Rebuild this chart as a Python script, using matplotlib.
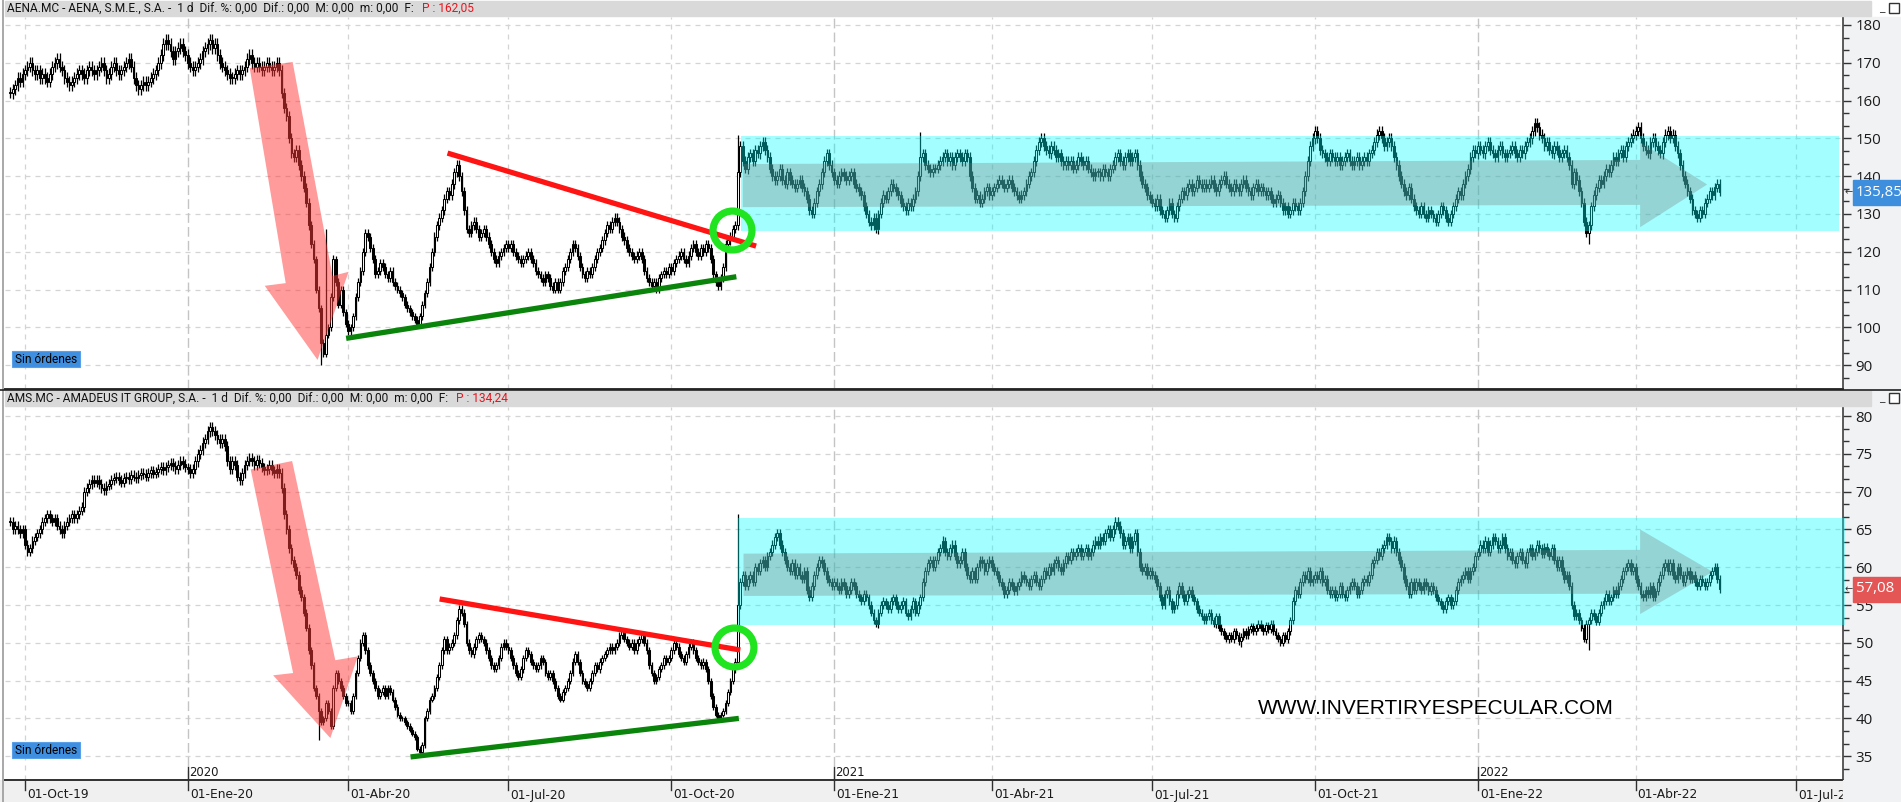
import numpy as np
import pandas as pd
import matplotlib
matplotlib.use('Agg')
import matplotlib.pyplot as plt
from matplotlib.patches import Polygon, Rectangle
from matplotlib.ticker import MultipleLocator, FixedLocator

plt.rcParams['font.family'] = ['Open Sans', 'DejaVu Sans']

# ---------------- DATA (daily closes, business days from 2019-09-23) ----------------
aena_2019 = [162, 163, 164, 166, 165, 167,
             168, 169, 170, 168, 167, 168, 166, 167, 166, 165, 167, 169, 170, 171, 169, 168, 166, 165, 164, 165, 166, 167, 168,
             167, 166, 168, 169, 168, 167, 168, 169, 170, 168, 166, 167, 169, 170, 168, 167, 168, 169, 170, 171, 169,
             166, 164, 163, 164, 165, 164, 165, 166, 167, 168, 170, 172, 175, 176, 175, 173, 171, 173, 174, 175, 173, 172]
aena_2020 = [170, 169, 168, 169, 170, 171, 173, 174, 175, 176, 174, 175, 172, 170, 169, 168, 167, 166, 166, 167, 168, 167, 168,
             169, 171, 172, 170, 169, 170, 169, 168, 169, 170, 169, 168, 169, 170, 168, 162, 158, 156, 150, 146,
             145, 147, 143, 140, 137, 133, 127, 122, 118, 110, 105, 96, 93, 98, 100, 108, 118, 112, 106, 110, 104, 101,
             99, 100, 103, 108, 112, 115, 120, 125, 124, 121, 118, 114, 115, 117, 116, 114, 113, 115, 112, 111, 110, 109,
             108, 106, 105, 104, 103, 102, 101, 103, 106, 109, 112, 116, 120, 124, 127, 129, 131, 134, 136, 135, 138,
             141, 143, 140, 136, 131, 126, 125, 127, 128, 126, 124, 125, 126, 124, 122, 120, 118, 117, 119, 120, 121, 122,
             121, 122, 120, 119, 118, 117, 118, 119, 120, 118, 117, 115, 114, 113, 112, 114, 113, 111, 110, 112, 110, 112, 115,
             116, 118, 120, 122, 121, 119, 116, 114, 113, 115, 114, 116, 118, 120, 121, 123, 125, 127, 126, 128, 129,
             128, 126, 124, 123, 121, 120, 119, 118, 119, 120, 118, 115, 113, 112, 111, 112, 110, 113, 114, 115, 114, 116,
             115, 117, 118, 119, 120, 118, 117, 119, 121, 122, 120, 119, 121, 120, 122, 121, 118, 114, 112, 111, 113, 116,
             122, 123, 124, 126, 127, 141, 148, 144, 142, 145, 146, 144, 147, 146, 148, 149, 147, 145, 142, 140, 139,
             140, 142, 139, 138, 141, 139, 138, 137, 138, 139, 137, 136, 134, 131, 130, 133, 136, 138, 141, 144, 146, 143, 141]
aena_2021 = [139, 138, 140, 141, 140, 139, 140, 141, 138, 137, 136, 135, 132, 130, 128, 127, 129, 126, 130, 133, 135,
             134, 136, 138, 137, 136, 135, 133, 132, 131, 133, 132, 134, 136, 140, 145, 146, 143, 142, 141, 142,
             142, 143, 144, 145, 146, 144, 145, 143, 145, 146, 145, 144, 146, 145, 140, 137, 134, 135, 133, 134, 136, 137, 135,
             136, 137, 138, 139, 138, 137, 138, 139, 137, 136, 135, 134, 135, 136, 138, 140, 141, 144, 147, 149, 150, 148,
             147, 146, 148, 147, 145, 146, 144, 143, 144, 143, 144, 142, 143, 145, 144, 143, 144, 142, 141, 140, 141,
             141, 140, 142, 141, 140, 142, 143, 145, 146, 144, 143, 145, 146, 144, 145, 146, 143, 140, 138, 137, 135, 134,
             133, 132, 134, 131, 130, 129, 131, 133, 130, 129, 132, 134, 136, 135, 137, 138, 136, 137, 139, 138, 137, 138,
             137, 138, 139, 137, 136, 138, 139, 140, 138, 137, 136, 138, 137, 136, 138, 139, 137, 136, 135, 137, 138, 136,
             137, 136, 135, 136, 134, 133, 134, 135, 133, 131, 132, 130, 131, 133, 132, 131, 133, 136, 140, 144, 148, 150,
             152, 150, 147, 146, 145, 144, 146, 145, 144, 145, 143, 144, 145, 146, 144, 143, 144, 145, 143, 144, 145,
             144, 146, 147, 149, 151, 152, 150, 148, 149, 150, 148, 145, 143, 140, 138, 136, 135, 137, 134, 132, 131, 130,
             132, 130, 129, 131, 130, 129, 128, 130, 132, 131, 129, 128, 130, 132, 134, 136, 135, 138, 140, 142, 145, 147, 146]
aena_2022 = [148, 147, 146, 148, 149, 147, 146, 145, 147, 148, 146, 145, 146, 147, 148, 146, 145, 147, 146, 148, 149,
             150, 152, 154, 153, 151, 150, 148, 149, 147, 146, 148, 147, 145, 146, 147, 145, 143, 138, 141, 139,
             136, 133, 128, 125, 127, 132, 135, 137, 139, 138, 140, 142, 141, 143, 145, 144, 146, 147, 145, 148, 149, 150, 151,
             152, 153, 150, 148, 147, 146, 149, 150, 148, 147, 146, 149, 151, 152, 150, 151, 148, 146, 143, 140, 138,
             136, 134, 131, 130, 129, 131, 130, 133, 134, 136, 135, 137, 138, 135.85]

ams_2019 = [66, 65, 65.5, 65, 64.5, 65,
            63, 62, 62.5, 63.5, 64, 64.5, 65, 66, 66.5, 67, 66.5, 66, 66.5, 65.5, 65, 64.5, 65.5, 66, 66.5, 67, 66.5, 67, 67.5,
            68, 70, 70.5, 71, 71.5, 71.2, 71.6, 71, 70.5, 70.2, 70.8, 71, 71.5, 71.8, 72, 71.5, 71.2, 71.8, 72, 71.7, 72.2,
            72, 71.8, 72.2, 72.5, 72.3, 72, 72.5, 72.8, 72.4, 72.6, 73, 73.3, 72.8, 73.2, 73.5, 73.8, 73.4, 73, 73.5, 74, 73.6, 73.2]
ams_2020 = [73, 72.5, 73, 74, 75, 75.5, 76.5, 77, 78, 78.5, 78, 77.5, 77, 76.5, 77, 76, 74, 73, 74, 73.5, 72, 71.5, 72.5,
            73.5, 74, 74.5, 74, 73.5, 74.2, 73.8, 73.2, 72.8, 73, 73.5, 72.8, 72.5, 73, 72.5, 70.5, 67, 65, 62.5, 61,
            60, 59, 57, 56, 54, 52, 49, 47, 44, 43, 41, 39.5, 40, 42, 41, 39, 44, 46, 45, 44, 43, 42,
            42, 41, 43, 46, 48, 50, 51, 49, 47, 46, 45, 44, 43, 43.5, 44, 43, 44, 43.5, 42.5, 41.5, 40.5, 40,
            40, 39.5, 39, 38.5, 38, 37.5, 36, 35.5, 36.5, 40, 41, 42.5, 43, 44, 45.5, 47, 49, 50.5, 49, 49.5, 50,
            51, 53, 54.5, 54, 52.5, 50, 49, 48.5, 49.5, 50.5, 51, 50.5, 50, 49, 48, 47, 46.5, 47, 48, 49.5, 50, 49.5,
            49, 48, 47, 46, 45.5, 46.5, 48, 49, 48.5, 47.5, 47, 46.5, 47, 48, 47.5, 46, 45.5, 46, 45, 44, 43, 42.5, 43.5,
            44, 45, 46, 47.5, 48.5, 47.5, 46, 45, 44.5, 44, 45, 46, 47, 46.5, 47.5, 48, 48.5, 49, 49.5, 49, 49.5,
            50, 51, 51.5, 50.5, 50, 49.5, 50, 49, 50, 50.5, 51, 50, 49, 47, 46, 45, 45.5, 46.5, 47, 48, 47.5, 48,
            49, 50, 49.5, 48.5, 48, 47.5, 48.5, 49.5, 50, 49, 48, 47.5, 47, 47.5, 46.5, 45, 43, 41.5, 40.5, 40, 40.5, 41,
            42, 43.5, 45, 46.5, 47.5, 55, 58, 59, 57.5, 58.5, 59, 58, 60, 59.5, 60.5, 61, 60, 61.5, 62, 63, 64,
            64.5, 63, 62, 61, 60, 59.5, 60.5, 59, 60, 59, 58.5, 59.5, 57, 56, 57.5, 59, 60, 61, 60.5, 59.5, 58.5, 58, 57.5]
ams_2021 = [58, 57.5, 57, 58, 57.5, 56.5, 57, 58, 57.5, 56.5, 56, 55.5, 56.5, 56, 55, 54, 53, 52.5, 54, 55, 55.5,
            55, 54.5, 55.5, 56, 55, 54.5, 55, 55.5, 54, 53.5, 54.5, 55.5, 54, 55, 56, 58, 59.5, 60.5, 61, 60,
            61, 62, 62.5, 63.5, 62, 61.5, 62.5, 63, 61.5, 60.5, 61, 62, 60, 59, 58.5, 59.5, 58.5, 60, 61, 60.5, 59.5, 60.5, 61,
            60, 59.5, 59, 58, 57.5, 56.5, 57, 58, 57.5, 56.8, 57.5, 58, 59, 58.5, 58, 57.5, 58.5, 59, 58, 57.5, 58.5, 59.5,
            59, 60, 59.5, 60.5, 61, 60, 59.5, 60.5, 61.5, 61, 62, 61.5, 62, 62.5, 61.5, 62, 62.5, 61.5, 62, 63, 63.5,
            63, 64, 63.5, 64.5, 65, 64, 65, 66, 65.5, 64.5, 63, 63.5, 64, 62.5, 63.5, 64.5, 62, 60, 59.5, 60, 59, 59.5,
            59, 58.5, 57.5, 56, 55, 56.5, 57, 55.5, 54.5, 55, 56.5, 57.5, 56.5, 55.5, 56.5, 57, 56, 55.5, 54.5, 54, 53.5, 53,
            53.5, 54, 53, 52.5, 53.5, 52, 51.5, 51, 50.5, 51, 50.5, 51.5, 51, 50.2, 50.8, 51.5, 51, 51.8, 52.2, 51.5, 52, 52.5,
            52, 51.5, 52.3, 51.8, 52.5, 51.5, 51, 50.5, 50, 51, 50.5, 51.5, 53, 55.5, 57, 56.5, 58, 59, 58.5, 59.5, 58, 58.5,
            59, 58.5, 59.5, 58, 58.5, 57, 56.5, 57, 56, 56.5, 57.5, 56.5, 56, 57, 57.5, 58, 57.5, 56.5, 57, 58, 58.5,
            58, 59, 60.5, 61, 62, 61.5, 62.5, 63, 64, 63.5, 62.5, 63.5, 62, 61, 60, 58.5, 57.5, 56.5, 58, 57, 58, 57.5,
            57, 58, 57.5, 56.8, 57.5, 57, 56, 55.5, 55, 54.5, 55.5, 56, 55, 55.5, 57, 58, 58.5, 59, 59.5, 58.5, 59.5, 60, 61.5]
ams_2022 = [62, 63, 62.5, 63.5, 62, 63, 64, 63.5, 62.5, 63, 64, 62.5, 61.5, 62, 61, 60.5, 61.5, 62, 61, 60.5, 62,
            62.5, 61.5, 62, 63, 62.5, 61.8, 62.7, 62, 61.5, 62.5, 61, 60, 61, 59.5, 58.5, 59, 57.5, 55, 53.5, 54,
            53, 52, 50.5, 52.5, 53, 54, 53.5, 52.8, 54, 55, 55.5, 56.5, 55.5, 56, 57, 56.5, 57.5, 58.5, 59.5, 60, 60.5, 59.5, 60,
            58.5, 57.5, 56.5, 56, 57, 56.5, 57.5, 56, 56.8, 58, 59, 60, 60.5, 59.5, 60.5, 59, 58.5, 60, 59, 58, 59,
            59.5, 58.5, 59, 58, 57.5, 58.5, 58, 57.5, 58, 59, 59.5, 60, 58.5, 57.08]

# notable wick extremes
aena_extremes = {'2020-03-17': (None, 90.0), '2020-03-19': (126.0, None), '2020-11-09': (151.0, None),
                 '2022-03-07': (None, 122.0), '2021-02-19': (151.8, None)}
ams_extremes = {'2020-03-16': (None, 37.2), '2020-11-09': (67.0, None), '2022-03-07': (None, 49.0),
                '2021-08-20': (None, 49.5)}

quarter_dates = ['2019-10-01', '2020-01-01', '2020-04-01', '2020-07-01', '2020-10-01', '2021-01-01',
                 '2021-04-01', '2021-07-01', '2021-10-01', '2022-01-01', '2022-04-01', '2022-07-01']
quarter_labels = ['01-Oct-19', '01-Ene-20', '01-Abr-20', '01-Jul-20', '01-Oct-20', '01-Ene-21',
                  '01-Abr-21', '01-Jul-21', '01-Oct-21', '01-Ene-22', '01-Abr-22', '01-Jul-22']
year_dates = ['2020-01-01', '2021-01-01', '2022-01-01']
year_labels = ['2020', '2021', '2022']

aena_ticks = [90, 100, 110, 120, 130, 140, 150, 160, 170, 180]
ams_ticks = [35, 40, 45, 50, 55, 60, 65, 70, 75, 80]

aena_header = 'AENA.MC - AENA, S.M.E., S.A. -  1 d  Dif. %: 0,00  Dif.: 0,00  M: 0,00  m: 0,00  F:'
aena_p = 'P : 162,05'
ams_header = 'AMS.MC - AMADEUS IT GROUP, S.A. -  1 d  Dif. %: 0,00  Dif.: 0,00  M: 0,00  m: 0,00  F:'
ams_p = 'P : 134,24'
aena_last, ams_last = '135,85', '57,08'

# ---------------- helpers ----------------
W, H = 1901, 802
fig = plt.figure(figsize=(W / 100, H / 100), dpi=100)
fig.patch.set_facecolor('white')


def rect(x0, y0, x1, y1):
    return [x0 / W, 1 - y1 / H, (x1 - x0) / W, (y1 - y0) / H]


def fpx(x, y):
    return x / W, 1 - y / H


aena = np.array(aena_2019 + aena_2020 + aena_2021 + aena_2022, dtype=float)
ams = np.array(ams_2019 + ams_2020 + ams_2021 + ams_2022, dtype=float)
cal = pd.bdate_range('2019-09-23', '2022-09-30')


def pos(d):
    return int(cal.searchsorted(pd.Timestamp(d)))


q_pos = [pos(d) for d in quarter_dates]
y_pos = [pos(d) for d in year_dates]
span = (q_pos[-1] - q_pos[0]) * 1838 / 1771
XL = q_pos[0] - 20 * span / 1838
XR = XL + span


def draw_candles(ax, closes, extremes, wfrac):
    c = closes
    o = np.r_[c[0], c[:-1]]
    x = np.arange(len(c))
    top = np.maximum(o, c)
    bot = np.minimum(o, c)
    hi = top + c * wfrac
    lo = bot - c * wfrac
    for d, (h, l) in extremes.items():
        i = pos(d)
        if i < len(c):
            if h is not None:
                hi[i] = h
            if l is not None:
                lo[i] = l
    ax.vlines(x, lo, hi, color='black', lw=0.9, zorder=2)
    up = c >= o
    hgt = np.maximum(top - bot, c * 0.002)
    ax.bar(x[up], hgt[up], bottom=bot[up], width=0.72, color='white', edgecolor='black', lw=0.75, zorder=3)
    ax.bar(x[~up], hgt[~up], bottom=bot[~up], width=0.72, color='black', edgecolor='black', lw=0.75, zorder=3)


def style_axes(ax, ticks, minor, ylim):
    ax.set_xlim(XL, XR)
    ax.set_ylim(*ylim)
    ax.yaxis.tick_right()
    ax.yaxis.set_major_locator(FixedLocator(ticks))
    ax.yaxis.set_minor_locator(MultipleLocator(minor))
    ax.tick_params(axis='y', which='major', length=6, width=1, color='#333333', labelsize=10.8,
                   labelcolor='#1a1a1a', pad=3)
    ax.tick_params(axis='y', which='minor', length=4, width=1, color='#333333')
    ax.set_xticks([])
    for s in ['top', 'left']:
        ax.spines[s].set_visible(False)
    ax.spines['right'].set_color('#404040')
    ax.spines['bottom'].set_color('#303030')
    ax.spines['right'].set_linewidth(1.2)
    ax.spines['bottom'].set_linewidth(1.4)
    for t in ticks:
        ax.axhline(t, color='#d4d4d4', lw=0.9, ls=(0, (4, 4)), zorder=0)
    for p in q_pos:
        if p in y_pos:
            ax.axvline(p, color='#c4c4c4', lw=1.0, ls=(0, (7, 3)), zorder=0)
        else:
            ax.axvline(p, color='#d4d4d4', lw=0.9, ls=(0, (4, 4)), zorder=0)


# ---------------- background panels ----------------
fig.add_artist(Rectangle(fpx(1843, 802), 58 / W, 785 / H, transform=fig.transFigure, color='#f1f2f4', zorder=0))
fig.add_artist(Rectangle(fpx(0, 802), 1843 / W, 22 / H, transform=fig.transFigure, color='#f0f0f0', zorder=0))
fig.add_artist(Rectangle(fpx(5, 16), 1866 / W, 15 / H, transform=fig.transFigure, color='#d9d9d9', zorder=1))
fig.add_artist(Rectangle(fpx(5, 406), 1866 / W, 15 / H, transform=fig.transFigure, color='#d9d9d9', zorder=1))
fig.add_artist(plt.Line2D([3 / W, 3 / W], [0, 1], transform=fig.transFigure, color='#9a9a9a', lw=1.2))
fig.add_artist(plt.Line2D([0, 1], [1 - 390 / H, 1 - 390 / H], transform=fig.transFigure, color='#202020', lw=1.2))

# ---------------- top panel: AENA ----------------
ax1 = fig.add_axes(rect(5, 17, 1843, 389))
ax1.patch.set_alpha(0)
draw_candles(ax1, aena, aena_extremes, 0.009)
style_axes(ax1, aena_ticks, 10 / 3, (83.7, 182.1))

ax1.add_patch(Polygon([(97.1, 168.6), (114.5, 170.2), (130.7, 113.6), (137.2, 114.7), (124.6, 91.4),
                       (103.2, 111.0), (111.7, 111.7)], closed=True, fc=(1, 0.22, 0.22), ec='none',
                      alpha=0.5, zorder=4))
ax1.add_patch(Rectangle((296.2, 125.5), XR - 296.2 - 1.5, 150.7 - 125.5, fc=(0, 1, 1), ec='none', alpha=0.36, zorder=4))
ax1.add_patch(Polygon([(297, 143.2), (660.8, 144.3), (660.8, 149.0), (688, 137.8), (660.8, 126.5),
                       (660.8, 132.4), (297, 131.8)], closed=True, fc=(0.45, 0.45, 0.45), ec='none',
                      alpha=0.3, zorder=5))
ax1.plot([177.3, 302.4], [146.1, 121.5], color='#ff1414', lw=3.8, solid_capstyle='butt', zorder=6)
ax1.plot([136.2, 294.4], [97.1, 113.4], color='#0b840b', lw=3.8, solid_capstyle='butt', zorder=6)
ax1.plot([292.5], [125.8], marker='o', ms=28, mfc='none', mec='#1fe41f', mew=5.2, zorder=7)

# ---------------- bottom panel: AMS ----------------
ax2 = fig.add_axes(rect(5, 407, 1843, 780))
ax2.patch.set_alpha(0)
draw_candles(ax2, ams, ams_extremes, 0.009)
style_axes(ax2, ams_ticks, 5 / 3, (31.85, 81.2))

ax2.add_patch(Polygon([(97.5, 72.95), (114.3, 74.05), (131.8, 47.7), (140.9, 48.2), (129.8, 37.4),
                       (106.6, 45.7), (114.7, 46.0)], closed=True, fc=(1, 0.22, 0.22), ec='none',
                      alpha=0.5, zorder=4))
ax2.add_patch(Rectangle((295, 52.3), XR - 295 + 1, 66.55 - 52.3, fc=(0, 1, 1), ec='none', alpha=0.36,
                        zorder=4, clip_on=False))
ax2.add_patch(Polygon([(297.3, 61.8), (660.8, 62.3), (660.8, 65.0), (690.2, 59.4), (660.8, 53.8),
                       (660.8, 56.5), (297.3, 56.2)], closed=True, fc=(0.45, 0.45, 0.45), ec='none',
                      alpha=0.3, zorder=5))
ax2.plot([174.1, 296.0], [55.8, 49.05], color='#ff1414', lw=3.8, solid_capstyle='butt', zorder=6)
ax2.plot([162.3, 295.4], [34.9, 40.0], color='#0b840b', lw=3.8, solid_capstyle='butt', zorder=6)
ax2.plot([293.6], [49.5], marker='o', ms=28, mfc='none', mec='#1fe41f', mew=5.2, zorder=7)

# x axis labels (in strip under bottom panel)
for p, lab in zip(q_pos, quarter_labels):
    xf = (5 + (p - XL) / (XR - XL) * 1838)
    fig.add_artist(plt.Line2D([xf / W, xf / W], [1 - 780 / H, 1 - 790 / H], transform=fig.transFigure,
                              color='#303030', lw=1.0))
    fig.text((xf + 2) / W, 1 - 795 / H, lab, ha='left', va='center', fontsize=8.8, color='#1a1a1a',
             family=['Liberation Sans Narrow', 'DejaVu Sans'], clip_on=False)
for p, lab in zip(y_pos, year_labels):
    xf = (5 + (p - XL) / (XR - XL) * 1838)
    fig.add_artist(plt.Line2D([xf / W, xf / W], [1 - 767 / H, 1 - 780 / H], transform=fig.transFigure,
                              color='#303030', lw=1.0))
    fig.text((xf + 1) / W, 1 - 772 / H, lab, ha='left', va='center', fontsize=8.4, color='#1a1a1a',
             family=['Liberation Sans Narrow', 'DejaVu Sans'])
fig.add_artist(Rectangle(fpx(1843, 802), 58 / W, 22 / H, transform=fig.transFigure, color='#f1f2f4', zorder=5))

# headers
renderer = fig.canvas.get_renderer()
for hy, txt, ptxt in [(8.5, aena_header, aena_p), (398.5, ams_header, ams_p)]:
    t = fig.text(7 / W, 1 - hy / H, txt, ha='left', va='center', fontsize=8.6, color='#111111',
                 family=['Roboto', 'DejaVu Sans'])
    bb = t.get_window_extent(renderer=renderer)
    fig.text((bb.x1 + 8) / W, 1 - hy / H, ptxt, ha='left', va='center', fontsize=8.6, color='#e8141e',
             family=['Roboto', 'DejaVu Sans'])

# "Sin órdenes" badges
for y0, y1 in [(351, 367), (742, 758)]:
    fig.add_artist(Rectangle(fpx(12, y1), 68 / W, (y1 - y0) / H, transform=fig.transFigure,
                             fc='#3f8fe0', ec='#5aa0e8', lw=0.8, zorder=8))
    fig.text(15 / W, 1 - (y0 + y1) / 2 / H, 'Sin órdenes', ha='left', va='center', fontsize=8.6,
             color='black', zorder=9, family=['Roboto', 'DejaVu Sans'])

# last-price tags
for yc, txt, col in [(192, aena_last, '#3e8ede'), (589, ams_last, '#e45656')]:
    fig.add_artist(Rectangle(fpx(1853, yc + 12.5), 48 / W, 25 / H, transform=fig.transFigure, color=col, zorder=8))
    fig.text(1856 / W, 1 - yc / H, txt, ha='left', va='center', fontsize=10.8, color='white', zorder=9)
    fig.text(1845 / W, 1 - yc / H, '←', ha='left', va='center', fontsize=7, color='#333333', zorder=9,
             family=['DejaVu Sans'])

# watermark
fig.text(1436 / W, 1 - 709 / H, 'WWW.INVERTIRYESPECULAR.COM', ha='center', va='center', fontsize=15,
         color='black', family=['Liberation Sans', 'DejaVu Sans'])

# window buttons
for yb in [8, 398]:
    fig.text(1882 / W, 1 - yb / H, '_', ha='center', va='center', fontsize=9, color='#333333')
    fig.add_artist(Rectangle(fpx(1889, yb + 5), 10 / W, 10 / H, transform=fig.transFigure,
                             fc='white', ec='#333333', lw=1.0, zorder=8))

fig.savefig('out.png', dpi=100, facecolor='white')
